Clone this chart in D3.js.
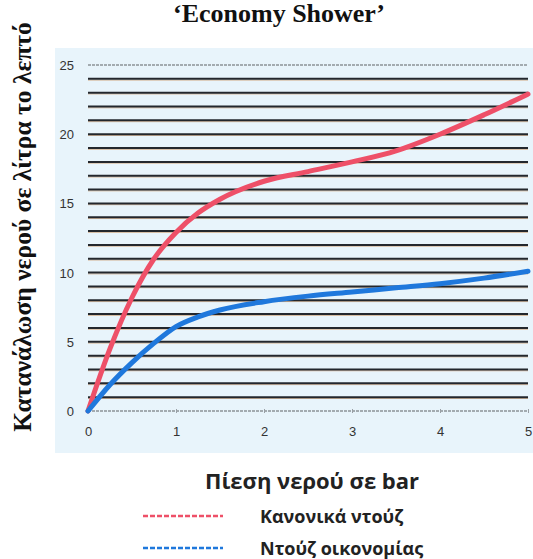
<!DOCTYPE html>
<html>
<head>
<meta charset="utf-8">
<script src="https://cdn.jsdelivr.net/npm/d3@7"></script>
<style>
  html, body { margin: 0; padding: 0; background: #ffffff; }
  svg { display: block; }
</style>
</head>
<body>
<svg id="chart" width="533" height="559"></svg>
<script>
// Water pressure (bar) on the x axis
const pressure = [0, 0.25, 0.5, 0.75, 1, 1.25, 1.5, 2, 2.5, 3, 3.5, 4, 4.5, 5];
// Flow in litres per minute for a regular shower
const regularFlow = [0, 4.5, 8.2, 11.0, 12.9, 14.3, 15.3, 16.6, 17.3, 18.0, 18.8, 20.0, 21.4, 22.9];
// Flow in litres per minute for an economy shower
const economyFlow = [0, 1.9, 3.5, 4.9, 6.1, 6.8, 7.3, 7.9, 8.3, 8.6, 8.9, 9.2, 9.6, 10.1];

const xTicks = [0, 1, 2, 3, 4, 5];
const yTicks = [0, 5, 10, 15, 20, 25];
const gridValues = d3.range(1, 25);

const titleText = "‘Economy Shower’";
const yTitle = "Κατανάλωση νερού σε λίτρα το λεπτό";
const xTitle = "Πίεση νερού σε bar";
const seriesNames = ["Κανονικά ντούζ", "Ντούζ οικονομίας"];
const seriesColors = ["#ee5068", "#1f78dc"];

const svg = d3.select("#chart");

// light blue panel behind the plot
svg.append("rect")
  .attr("x", 55).attr("y", 48).attr("width", 478).attr("height", 405)
  .attr("fill", "#e8f4fb");

const x = d3.scaleLinear().domain([0, 5]).range([88, 528]);
const y = d3.scaleLinear().domain([0, 25]).range([411, 65]);

// horizontal grid, one line per litre
const grid = svg.append("g");
grid.selectAll("line.shadow")
  .data(gridValues).join("line")
  .attr("class", "shadow")
  .attr("x1", x(0)).attr("x2", x(5))
  .attr("y1", d => y(d) + 1.3).attr("y2", d => y(d) + 1.3)
  .attr("stroke", "#c9905a").attr("stroke-width", 1).attr("opacity", 0.6);
grid.selectAll("line.main")
  .data(gridValues).join("line")
  .attr("class", "main")
  .attr("x1", x(0)).attr("x2", x(5))
  .attr("y1", d => y(d)).attr("y2", d => y(d))
  .attr("stroke", "#23272d").attr("stroke-width", 2);

// light top line and baseline
grid.selectAll("line.edge")
  .data([0, 25]).join("line")
  .attr("class", "edge")
  .attr("x1", x(0)).attr("x2", x(5))
  .attr("y1", d => y(d)).attr("y2", d => y(d))
  .attr("stroke", "#8c9298").attr("stroke-width", 1.5)
  .attr("stroke-dasharray", "3,1");

// y axis labels
const yAxis = d3.axisLeft(y).tickValues(yTicks).tickSize(0).tickPadding(0);
svg.append("g")
  .attr("transform", "translate(74,0)")
  .call(yAxis)
  .call(g => g.select(".domain").remove())
  .call(g => g.selectAll("text")
    .attr("font-family", "Liberation Sans, Arial, sans-serif")
    .attr("font-size", 13).attr("fill", "#333").attr("dy", "0.35em"));

// x axis labels with small marks on the baseline
const xAxis = d3.axisBottom(x).tickValues(xTicks).tickFormat(d3.format("d"))
  .tickSize(4).tickPadding(14);
svg.append("g")
  .attr("transform", `translate(0,${y(0) - 2})`)
  .call(xAxis)
  .call(g => g.select(".domain").remove())
  .call(g => g.selectAll(".tick line").attr("stroke", "#9aa0a6"))
  .call(g => g.selectAll("text")
    .attr("font-family", "Liberation Sans, Arial, sans-serif")
    .attr("font-size", 13).attr("fill", "#333"));

// flow curves
const line = d3.line()
  .x(d => x(d[0]))
  .y(d => y(d[1]))
  .curve(d3.curveMonotoneX);

[regularFlow, economyFlow].forEach((vals, i) => {
  svg.append("path")
    .datum(pressure.map((p, j) => [p, vals[j]]))
    .attr("d", line)
    .attr("fill", "none")
    .attr("stroke", seriesColors[i])
    .attr("stroke-width", 5)
    .attr("stroke-linecap", "round")
    .attr("stroke-linejoin", "round");
});

// title
svg.append("text")
  .attr("x", 279).attr("y", 22)
  .attr("text-anchor", "middle")
  .attr("font-family", "Liberation Serif, Times New Roman, serif")
  .attr("font-weight", "bold").attr("font-size", 26)
  .attr("fill", "#111")
  .text(titleText);

// y axis title
svg.append("text")
  .attr("transform", "translate(31,227) rotate(-90)")
  .attr("text-anchor", "middle")
  .attr("font-family", "Liberation Serif, Times New Roman, serif")
  .attr("font-weight", "bold").attr("font-size", 25.5)
  .attr("fill", "#111")
  .text(yTitle);

// x axis title
svg.append("text")
  .attr("x", 312).attr("y", 489)
  .attr("text-anchor", "middle")
  .attr("font-family", "Open Sans, Liberation Sans, sans-serif")
  .attr("font-weight", "bold").attr("font-size", 22)
  .attr("fill", "#222")
  .text(xTitle);

// legend
const legend = svg.append("g");
seriesNames.forEach((name, i) => {
  const ly = 516 + i * 32;
  legend.append("line")
    .attr("x1", 143).attr("x2", 223)
    .attr("y1", ly).attr("y2", ly)
    .attr("stroke", seriesColors[i]).attr("stroke-width", 2.5)
    .attr("stroke-dasharray", "5,2");
  legend.append("text")
    .attr("x", 260).attr("y", ly + 7)
    .attr("font-family", "Open Sans, Liberation Sans, sans-serif")
    .attr("font-weight", "bold").attr("font-size", 18)
    .attr("fill", "#222")
    .text(name);
});
</script>
</body>
</html>
